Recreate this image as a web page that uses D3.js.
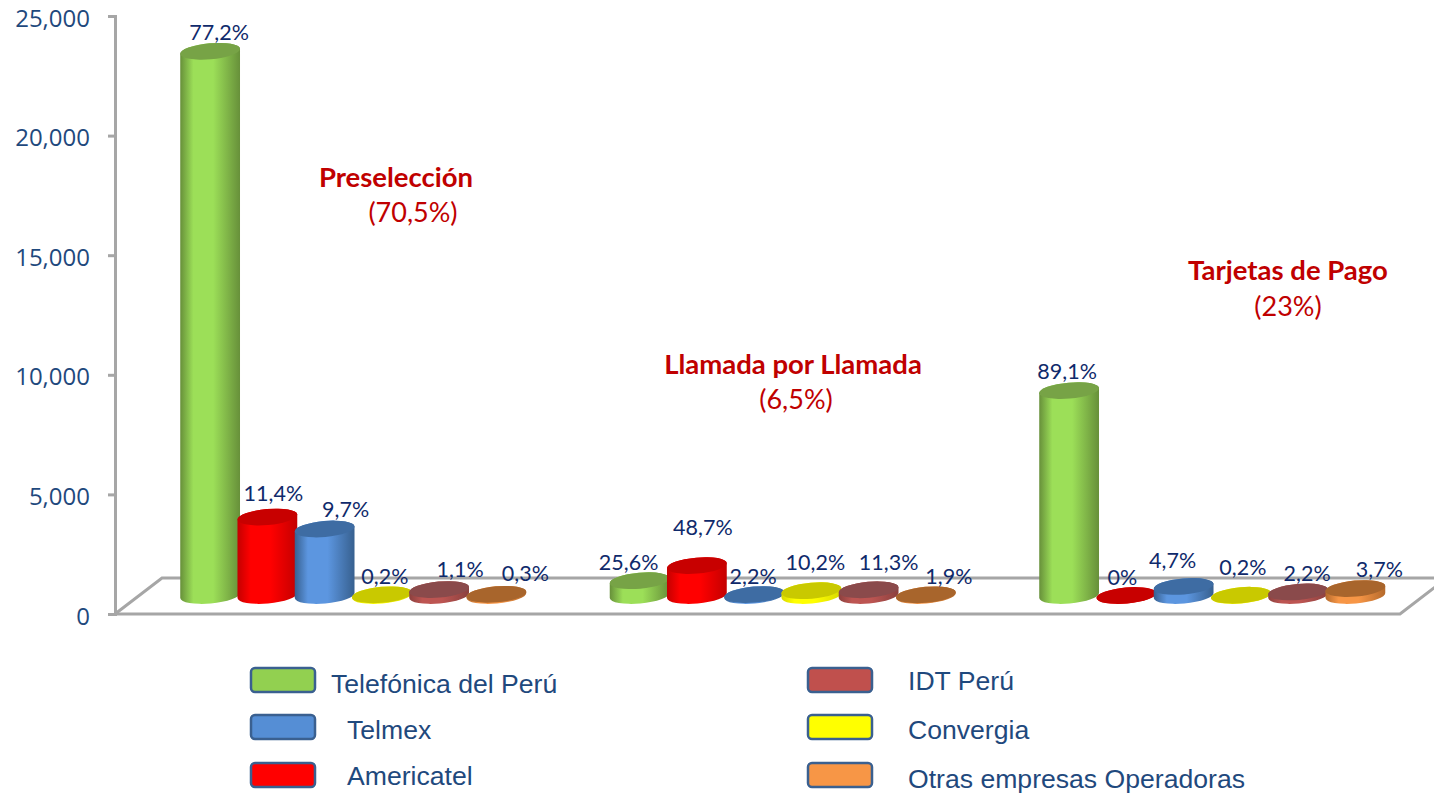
<!DOCTYPE html>
<html>
<head>
<meta charset="utf-8">
<script src="https://cdn.jsdelivr.net/npm/d3@7"></script>
<style>
  html, body { margin: 0; padding: 0; background: #fff; overflow: hidden; }
</style>
</head>
<body>
<div id="chart"></div>
<script>
const groups = ["Preselección", "Llamada por Llamada", "Tarjetas de Pago"];
const groupShares = ["(70,5%)", "(6,5%)", "(23%)"];
const operators = ["Telefónica del Perú", "Americatel", "Telmex", "Convergia", "IDT Perú", "Otras empresas Operadoras"];
const telefonica = [22750, 620, 8566];
const americatel = [3280, 1250, 0];
const telmex = [2780, 40, 380];
const convergia = [30, 200, 10];
const idt = [250, 240, 150];
const otras = [50, 30, 290];
const percentLabels = [
    ["77,2%", "11,4%", "9,7%", "0,2%", "1,1%", "0,3%"],
    ["25,6%", "48,7%", "2,2%", "10,2%", "11,3%", "1,9%"],
    ["89,1%", "0%", "4,7%", "0,2%", "2,2%", "3,7%"]
];
const yTicks = [0, 5000, 10000, 15000, 20000, 25000];

const seriesValues = [telefonica, americatel, telmex, convergia, idt, otras];

// center, edge, top face colours for each operator
const palette = {
    "Telefónica del Perú": { mid: "#9cdf58", edge: "#67903a", top: "#77a346", swatch: "#92d050" },
    "Americatel": { mid: "#ff0000", edge: "#c40000", top: "#c80000", swatch: "#ff0000" },
    "Telmex": { mid: "#5c96e0", edge: "#37608f", top: "#3e6ca3", swatch: "#558ed5" },
    "Convergia": { mid: "#ffff00", edge: "#d8d800", top: "#c9c900", swatch: "#ffff00" },
    "IDT Perú": { mid: "#bd5552", edge: "#8a403e", top: "#8a4a4b", swatch: "#c0504d" },
    "Otras empresas Operadoras": { mid: "#f79646", edge: "#b56a2c", top: "#a8652c", swatch: "#f79646" }
};

const margin = { top: 16, bottom: 180 };
const width = 1434, height = 794;
const axisColor = "#a6a6a6", textColor = "#1f497d", labelColor = "#0f2a6b", titleColor = "#c00000";

// floor of the fake 3D plot
const floorDepth = 36, floorLean = 47, floorRight = 1400;
const axisX = 115;

const svg = d3.select("#chart").append("svg")
    .attr("width", width)
    .attr("height", height)
    .style("display", "block");

const y = d3.scaleLinear()
    .domain([0, 25000])
    .range([height - margin.bottom, margin.top]);

const x0 = d3.scaleBand()
    .domain(groups)
    .range([138.5, 1427]);

const x1 = d3.scaleBand()
    .domain(operators)
    .range([43, 386.5]);

const baseY = y(0) - floorDepth / 2 - 0.5;
const rx = 30, ry = 8, tilt = -5;
const tiltRad = tilt * Math.PI / 180;

const defs = svg.append("defs");
operators.forEach((name, i) => {
    const grad = defs.append("linearGradient")
        .attr("id", "body" + i);
    grad.append("stop").attr("offset", "0%").attr("stop-color", palette[name].edge);
    grad.append("stop").attr("offset", "22%").attr("stop-color", palette[name].mid);
    grad.append("stop").attr("offset", "55%").attr("stop-color", palette[name].mid);
    grad.append("stop").attr("offset", "100%").attr("stop-color", palette[name].edge);
});

// axis and floor
const floor = svg.append("g")
    .attr("fill", "none")
    .attr("stroke", axisColor)
    .attr("stroke-width", 3);
floor.append("path")
    .attr("d", d3.line()([
        [axisX, y(0)], [floorRight, y(0)], [floorRight + floorLean, y(0) - floorDepth]
    ]));
floor.append("path")
    .attr("d", d3.line()([
        [axisX, y(0)], [axisX + floorLean, y(0) - floorDepth], [width, y(0) - floorDepth]
    ]));

const yAxis = svg.append("g")
    .attr("transform", `translate(${axisX},0)`)
    .call(d3.axisLeft(y).tickValues(yTicks).tickSize(7).tickPadding(18).tickFormat(d3.format(",")));
yAxis.selectAll("path, line").attr("stroke", axisColor).attr("stroke-width", 3);
yAxis.selectAll("text")
    .attr("fill", textColor)
    .attr("dy", "0.42em")
    .style("font-family", "'Open Sans', sans-serif")
    .style("font-size", "24px");

function cylinder(cx, top) {
    const dx = rx * Math.cos(tiltRad), dy = rx * Math.sin(tiltRad);
    return `M${cx - dx},${top - dy}` +
        `A${rx},${ry} ${tilt} 0 1 ${cx + dx},${top + dy}` +
        `L${cx + dx},${baseY + dy}` +
        `A${rx},${ry} ${tilt} 0 1 ${cx - dx},${baseY - dy}Z`;
}

// hand placed labels in the source: extra lift above each bar
const labelLift = [
    [0, 5, 1, 0, 2, 2],
    [0, 20, 0, 10, 9, 0],
    [1, 0, 7, 9, 0, 1]
];
const labelShift = [
    [1, -2, 13, -5, 13, 21],
    [-19, -2, -9, -4, 12, 15],
    [-10, -12, -19, -6, 1, 16]
];

groups.forEach((group, g) => {
    const cell = svg.append("g")
        .attr("transform", `translate(${x0(group)},0)`);
    operators.forEach((name, i) => {
        const value = seriesValues[i][g];
        const cx = x1(name) + x1.bandwidth() / 2;
        const top = y(value) - floorDepth / 2 - 0.5;
        cell.append("path")
            .attr("d", cylinder(cx, top))
            .attr("fill", `url(#body${i})`);
        cell.append("ellipse")
            .attr("transform", `translate(${cx},${top}) rotate(${tilt})`)
            .attr("rx", rx)
            .attr("ry", ry)
            .attr("fill", palette[name].top);
    });
    operators.forEach((name, i) => {
        const value = seriesValues[i][g];
        const cx = x1(name) + x1.bandwidth() / 2;
        cell.append("text")
            .attr("x", cx + 8 + labelShift[g][i])
            .attr("y", y(value) - floorDepth / 2 - 19 - labelLift[g][i])
            .attr("dy", "0.35em")
            .attr("text-anchor", "middle")
            .attr("fill", labelColor)
            .style("font-family", "Lato, sans-serif")
            .style("font-size", "21.5px")
            .text(percentLabels[g][i]);
    });
});

// series titles sit free in the plot area
const titleSpots = [
    { x: 396, y: 177, shareX: 413, shareY: 213 },
    { x: 793, y: 364, shareX: 796, shareY: 400 },
    { x: 1288, y: 270, shareX: 1288, shareY: 307 }
];
groups.forEach((group, g) => {
    const spot = titleSpots[g];
    svg.append("text")
        .attr("x", spot.x)
        .attr("y", spot.y)
        .attr("dy", "0.35em")
        .attr("text-anchor", "middle")
        .attr("fill", titleColor)
        .style("font-family", "Lato, sans-serif")
        .style("font-weight", "700")
        .style("font-size", "27.5px")
        .text(group);
    svg.append("text")
        .attr("x", spot.shareX)
        .attr("y", spot.shareY)
        .attr("dy", "0.35em")
        .attr("text-anchor", "middle")
        .attr("fill", titleColor)
        .style("font-family", "Lato, sans-serif")
        .style("font-size", "27px")
        .text(groupShares[g]);
});

// legend, laid out by hand like the original slide
const legendItems = [
    { name: "Telefónica del Perú", boxX: 251, boxY: 668, textX: 331, textY: 684 },
    { name: "Telmex", boxX: 251, boxY: 715, textX: 347, textY: 730 },
    { name: "Americatel", boxX: 251, boxY: 763, textX: 347, textY: 776 },
    { name: "IDT Perú", boxX: 808, boxY: 668, textX: 908, textY: 681 },
    { name: "Convergia", boxX: 808, boxY: 715, textX: 908, textY: 730 },
    { name: "Otras empresas Operadoras", boxX: 808, boxY: 763, textX: 908, textY: 779 }
];
const legend = svg.append("g").attr("class", "legend");
legendItems.forEach(item => {
    legend.append("rect")
        .attr("x", item.boxX)
        .attr("y", item.boxY)
        .attr("width", 64)
        .attr("height", 24)
        .attr("rx", 4)
        .attr("fill", palette[item.name].swatch)
        .attr("stroke", "#3a6090")
        .attr("stroke-width", 2.5);
    legend.append("text")
        .attr("x", item.textX)
        .attr("y", item.textY)
        .attr("dy", "0.35em")
        .attr("fill", textColor)
        .style("font-family", "'Liberation Sans', Arial, sans-serif")
        .style("font-size", "26.6px")
        .text(item.name);
});
</script>
</body>
</html>
